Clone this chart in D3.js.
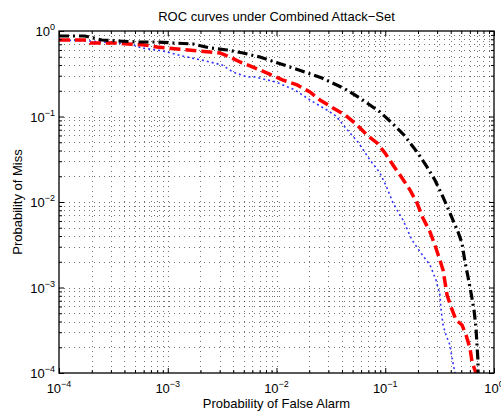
<!DOCTYPE html>
<html><head><meta charset="utf-8">
<script src="https://cdn.jsdelivr.net/npm/d3@7"></script>
<style>
body{margin:0;background:#fff}
svg{display:block}
text{font-family:"Liberation Sans",Arial,Helvetica,sans-serif;fill:#000}
</style>
</head><body><svg id="c" width="501" height="412"></svg>
<script>
// ---- data ----
const chartTitle = "ROC curves under Combined Attack−Set";
const xLabel = "Probability of False Alarm";
const yLabel = "Probability of Miss";
const xDomain = [1e-4, 1];
const yDomain = [1e-4, 1];
const xTickExponents = [-4, -3, -2, -1, 0];
const yTickExponents = [-4, -3, -2, -1, 0];

const blackFA = [1e-4,1.73e-4,2.48e-4,3.49e-4,5.32e-4,7.96e-4,1.117e-3,1.706e-3,2.45e-3,3.51e-3,4.92e-3,7.05e-3,9.68e-3,1.33e-2,1.83e-2,2.62e-2,4.27e-2,5.86e-2,8.95e-2,0.1153,0.1486,0.196,0.242,0.286,0.340,0.394,0.467,0.508,0.541,0.577,0.615,0.655,0.682,0.698,0.713,0.713];
const blackMiss = [0.874,0.874,0.785,0.764,0.744,0.744,0.724,0.705,0.633,0.600,0.553,0.496,0.434,0.379,0.331,0.282,0.210,0.164,0.113,0.0840,0.0608,0.0385,0.0257,0.0181,0.0114,7.43e-3,4.46e-3,3.31e-3,1.99e-3,1.33e-3,8.63e-4,5.46e-4,3.45e-4,2.12e-4,1.35e-4,1e-4];

const redFA = [1e-4,1.809e-4,1.93e-4,3.27e-4,4.31e-4,6.18e-4,7.96e-4,1.216e-3,1.897e-3,3.02e-3,3.90e-3,4.61e-3,5.70e-3,7.05e-3,1.148e-2,1.545e-2,2.03e-2,2.51e-2,3.31e-2,4.27e-2,5.50e-2,6.79e-2,8.40e-2,9.95e-2,0.1178,0.1426,0.169,0.196,0.222,0.258,0.286,0.318,0.340,0.354,0.370,0.403,0.448,0.508,0.553,0.601,0.628,0.682];
const redMiss = [0.785,0.785,0.724,0.724,0.705,0.686,0.650,0.616,0.584,0.553,0.483,0.434,0.390,0.350,0.267,0.234,0.1935,0.156,0.1257,0.1042,0.0796,0.0608,0.0490,0.0374,0.0271,0.0191,0.0138,9.73e-3,6.50e-3,4.46e-3,3.14e-3,2.10e-3,1.60e-3,1.16e-3,8.17e-4,5.91e-4,4.17e-4,3.64e-4,2.78e-4,1.96e-4,1.35e-4,1e-4];

const blueFA = [1e-4,1.93e-4,4.50e-4,5.79e-4,9.04e-4,1.352e-3,2.25e-3,3.16e-3,3.98e-3,5.36e-3,6.34e-3,9.89e-3,1.479e-2,2.03e-2,2.91e-2,3.52e-2,4.18e-2,5.61e-2,7.24e-2,8.95e-2,0.1038,0.1178,0.1456,0.176,0.213,0.258,0.293,0.318,0.326,0.340,0.362,0.394,0.411,0.438];
const blueMiss = [0.785,0.764,0.705,0.633,0.584,0.510,0.446,0.400,0.331,0.290,0.290,0.253,0.204,0.156,0.119,0.1014,0.0774,0.0503,0.0310,0.0218,0.0146,9.73e-3,6.15e-3,3.60e-3,2.53e-3,1.83e-3,1.22e-3,8.17e-4,5.46e-4,3.64e-4,2.78e-4,2.12e-4,1.50e-4,1e-4];

// ---- layout ----
const L = 59, R = 494, T = 31, B = 373;
const svg = d3.select("#c");
const x = d3.scaleLog().domain(xDomain).range([L, R]);
const y = d3.scaleLog().domain(yDomain).range([B, T]);

const allX = x.ticks();  // 1..9 x 10^k
const allY = y.ticks();
const isMajor = v => Math.abs(Math.log10(v) - Math.round(Math.log10(v))) < 1e-9;

// grid
const grid = svg.append("g").attr("stroke", "#000").attr("stroke-width", 1)
  .attr("stroke-dasharray", "1,4").attr("stroke-opacity", 0.55);
grid.selectAll("line.gx").data(allX.filter(v => v > xDomain[0] && v < xDomain[1])).enter().append("line")
  .attr("x1", d => Math.round(x(d)) + 0.5).attr("x2", d => Math.round(x(d)) + 0.5)
  .attr("y1", T).attr("y2", B);
grid.selectAll("line.gy").data(allY.filter(v => v > yDomain[0] && v < yDomain[1])).enter().append("line")
  .attr("y1", d => Math.round(y(d)) + 0.5).attr("y2", d => Math.round(y(d)) + 0.5)
  .attr("x1", L).attr("x2", R);

// curves
svg.append("clipPath").attr("id", "clip").append("rect")
  .attr("x", L).attr("y", T - 2).attr("width", R - L).attr("height", B - T + 2);
const line = d3.line().x(d => x(d[0])).y(d => y(d[1]));
const series = [
  {fa: blueFA, miss: blueMiss, color: "#0000ff", w: 1.6, dash: "2,3", op: 0.8},
  {fa: redFA, miss: redMiss, color: "#ff0000", w: 3.5, dash: "11,5", op: 1},
  {fa: blackFA, miss: blackMiss, color: "#000000", w: 3.2, dash: "10,4,2,4", op: 1}
];
const cg = svg.append("g").attr("clip-path", "url(#clip)");
series.forEach(s => {
  cg.append("path").datum(s.fa.map((v, i) => [v, s.miss[i]]))
    .attr("d", line).attr("fill", "none").attr("stroke", s.color)
    .attr("stroke-width", s.w).attr("stroke-dasharray", s.dash).attr("stroke-opacity", s.op);
});

// axes (inward ticks, all four sides)
function styleAxis(g) {
  g.select(".domain").remove();
  g.selectAll("text").remove();
  g.selectAll("line").attr("stroke", "#000").attr("stroke-width", 1);
}
const majorX = allX.filter(isMajor), minorX = allX.filter(v => !isMajor(v));
const majorY = allY.filter(isMajor), minorY = allY.filter(v => !isMajor(v));
svg.append("g").attr("transform", `translate(0,${B})`).call(d3.axisBottom(x).tickValues(majorX).tickSize(-5)).call(styleAxis);
svg.append("g").attr("transform", `translate(0,${B})`).call(d3.axisBottom(x).tickValues(minorX).tickSize(-3)).call(styleAxis);
svg.append("g").attr("transform", `translate(0,${T})`).call(d3.axisTop(x).tickValues(majorX).tickSize(-5)).call(styleAxis);
svg.append("g").attr("transform", `translate(0,${T})`).call(d3.axisTop(x).tickValues(minorX).tickSize(-3)).call(styleAxis);
svg.append("g").attr("transform", `translate(${L},0)`).call(d3.axisLeft(y).tickValues(majorY).tickSize(-5)).call(styleAxis);
svg.append("g").attr("transform", `translate(${L},0)`).call(d3.axisLeft(y).tickValues(minorY).tickSize(-3)).call(styleAxis);
svg.append("g").attr("transform", `translate(${R},0)`).call(d3.axisRight(y).tickValues(majorY).tickSize(-5)).call(styleAxis);
svg.append("g").attr("transform", `translate(${R},0)`).call(d3.axisRight(y).tickValues(minorY).tickSize(-3)).call(styleAxis);

// box
svg.append("rect").attr("x", L).attr("y", T).attr("width", R - L).attr("height", B - T)
  .attr("fill", "none").attr("stroke", "#000").attr("stroke-width", 1.3);

// tick labels
function pow10Label(g, e) {
  g.append("tspan").text("10");
  g.append("tspan").attr("dy", -6).attr("font-size", 9).text(e === 0 ? "0" : "−" + Math.abs(e));
}
xTickExponents.forEach(e => {
  const t = svg.append("text").attr("x", x(Math.pow(10, e))).attr("y", B + 20)
    .attr("text-anchor", "middle").attr("font-size", 13);
  pow10Label(t, e);
});
yTickExponents.forEach(e => {
  const t = svg.append("text").attr("x", L - 4).attr("y", y(Math.pow(10, e)) + 5)
    .attr("text-anchor", "end").attr("font-size", 13);
  pow10Label(t, e);
});

// titles
svg.append("text").attr("x", (L + R) / 2).attr("y", 21).attr("text-anchor", "middle")
  .attr("font-size", 13).text(chartTitle);
svg.append("text").attr("x", (L + R) / 2).attr("y", 408).attr("text-anchor", "middle")
  .attr("font-size", 13).text(xLabel);
svg.append("text").attr("transform", `translate(22,${(T + B) / 2}) rotate(-90)`)
  .attr("text-anchor", "middle").attr("font-size", 13).text(yLabel);
</script></body></html>
